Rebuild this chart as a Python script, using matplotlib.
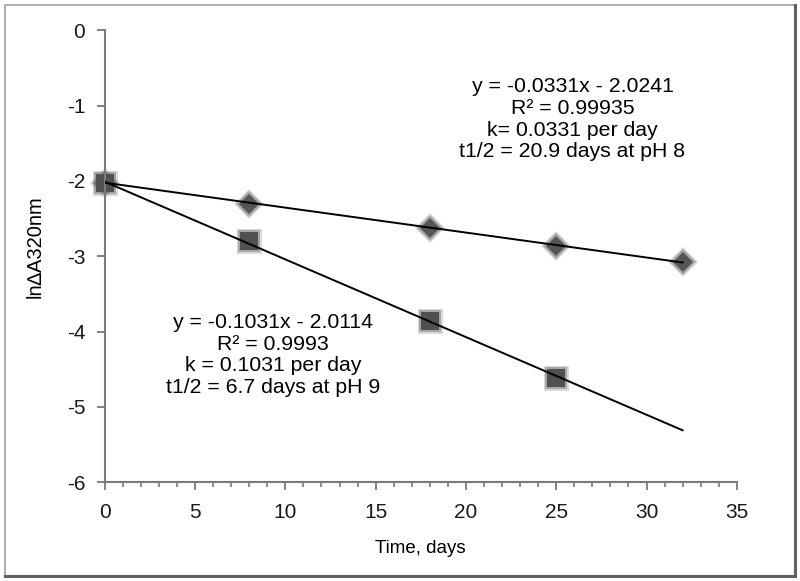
import numpy as np
import matplotlib.pyplot as plt
from matplotlib.patches import Rectangle
from matplotlib.ticker import MultipleLocator

plt.rcParams['font.family'] = ['Liberation Sans', 'DejaVu Sans']
plt.rcParams['axes.unicode_minus'] = False

# measured ln(dA320nm) values
days_ph8 = [0, 8, 18, 25, 32]
lnA_ph8 = [-2.03, -2.31, -2.62, -2.87, -3.08]
days_ph9 = [0, 8, 18, 25]
lnA_ph9 = [-2.03, -2.80, -3.86, -4.61]

# linear fits from the chart
slope8, icept8 = -0.0331, -2.0241
slope9, icept9 = -0.1031, -2.0114
fit_x = [0, 32]

label8 = "y = -0.0331x - 2.0241\nR\u00b2 = 0.99935\nk= 0.0331 per day\nt1/2 = 20.9 days at pH 8"
label9 = "y = -0.1031x - 2.0114\nR\u00b2 = 0.9993\nk = 0.1031 per day\nt1/2 = 6.7 days at pH 9"

fig = plt.figure(figsize=(8, 5.81), dpi=100)
ax = fig.add_axes([0.131, 0.170, 0.79, 0.778])

# outer frame with a little shadow on the bottom/right
fig.patches.append(Rectangle((0.006, 0.008), 0.988, 0.983, transform=fig.transFigure,
                             fill=False, edgecolor='#b0b0b0', linewidth=1.5))
fig.add_artist(plt.Line2D([0.006, 0.994], [0.008, 0.008], transform=fig.transFigure,
                          color='#606060', linewidth=2.2))
fig.add_artist(plt.Line2D([0.994, 0.994], [0.008, 0.991], transform=fig.transFigure,
                          color='#606060', linewidth=2.2))

fx = np.array(fit_x)
ax.plot(fx, slope8 * fx + icept8, color='black', linewidth=1.4, zorder=3)
ax.plot(fx, slope9 * fx + icept9, color='black', linewidth=1.4, zorder=3)

# blurry edge around the markers, faked with two wider translucent layers
for grow, a in [(4.5, 0.25), (2.5, 0.45)]:
    ax.plot(days_ph8, lnA_ph8, linestyle='none', marker='D', markersize=10.5 + grow,
            color='#6a6a6a', markeredgewidth=0, alpha=a, zorder=2, clip_on=False)
    ax.plot(days_ph9, lnA_ph9, linestyle='none', marker='s', markersize=13.5 + grow,
            color='#6a6a6a', markeredgewidth=0, alpha=a, zorder=2, clip_on=False)
ax.plot(days_ph8, lnA_ph8, linestyle='none', marker='D', markersize=10.5,
        color='#555555', markeredgewidth=0, zorder=2, clip_on=False)
ax.plot(days_ph9, lnA_ph9, linestyle='none', marker='s', markersize=13.5,
        color='#505050', markeredgewidth=0, zorder=2, clip_on=False)

ax.text(25.9, -0.62, label8, ha='center', va='top', fontsize=15.3, linespacing=1.19)
ax.text(9.33, -3.75, label9, ha='center', va='top', fontsize=15.3, linespacing=1.19)

ax.set_xlim(0, 35)
ax.set_ylim(-6, 0)
ax.xaxis.set_major_locator(MultipleLocator(5))
ax.xaxis.set_minor_locator(MultipleLocator(1))
ax.yaxis.set_major_locator(MultipleLocator(1))

for s in ['top', 'right']:
    ax.spines[s].set_visible(False)
for s in ['left', 'bottom']:
    ax.spines[s].set_color('#7a7a7a')
    ax.spines[s].set_linewidth(1.5)
ax.tick_params(axis='both', which='major', direction='out', length=6, width=1.3,
               color='#7a7a7a', labelsize=15, labelcolor='#1a1a1a')
ax.tick_params(axis='x', which='major', pad=9)
ax.tick_params(axis='x', which='minor', direction='out', length=3.5, width=1.2, color='#7a7a7a')
ax.tick_params(axis='y', pad=8)

ax.set_xlabel('Time, days', fontsize=13.5, labelpad=13)
ax.set_ylabel('ln\u2206A320nm', fontsize=14.5)
ax.yaxis.set_label_coords(-0.095, 0.522)

fig.savefig('out.png', dpi=100)
